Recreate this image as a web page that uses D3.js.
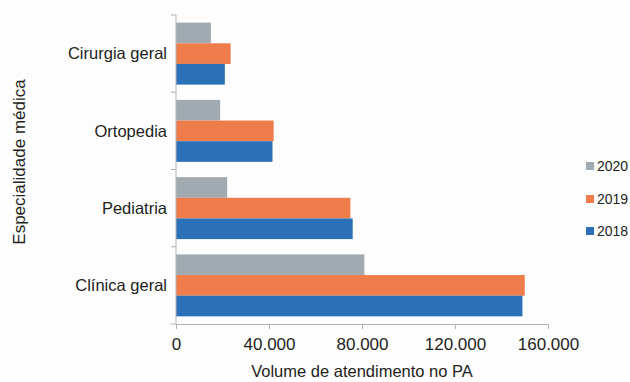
<!DOCTYPE html>
<html>
<head>
<meta charset="utf-8">
<script src="https://cdn.jsdelivr.net/npm/d3@7"></script>
<style>
  body { margin: 0; background: #fdfdfd; }
  text { font-family: "Liberation Sans", Arial, sans-serif; fill: #231f20; }
</style>
</head>
<body>
<div id="chart"></div>
<script>
// categories top to bottom, series top to bottom inside each group
var categories = ["Cirurgia geral", "Ortopedia", "Pediatria", "Clínica geral"];
var series = ["2020", "2019", "2018"];
var values2020 = [15000, 19000, 22000, 81000];
var values2019 = [23500, 42000, 75000, 150000];
var values2018 = [21000, 41500, 76000, 149000];
var xTicks = [0, 40000, 80000, 120000, 160000];
var colors = {"2020": "#a1aab1", "2019": "#ef7d4b", "2018": "#2a71b8"};

var data = categories.map(function(c, i) {
  return {cat: c, vals: {"2020": values2020[i], "2019": values2019[i], "2018": values2018[i]}};
});

var width = 630, height = 382;
var margin = {top: 15, right: 82, bottom: 58, left: 176};

var svg = d3.select("#chart").append("svg")
  .attr("width", width)
  .attr("height", height);

var x = d3.scaleLinear()
  .domain([0, 160000])
  .range([margin.left, width - margin.right - 0]);

var y0 = d3.scaleBand()
  .domain(categories)
  .range([margin.top, height - margin.bottom])
  .padding(0);

var y1 = d3.scaleBand()
  .domain(series)
  .range([0, y0.bandwidth()])
  .paddingInner(0)
  .paddingOuter(0.37);

var loc = d3.formatLocale({decimal: ",", thousands: ".", grouping: [3], currency: ["", ""]});
var fmt = loc.format(",");

// bars
var groups = svg.append("g").selectAll("g")
  .data(data)
  .enter().append("g")
  .attr("transform", function(d) { return "translate(0," + y0(d.cat) + ")"; });

groups.selectAll("rect")
  .data(function(d) { return series.map(function(s) { return {s: s, v: d.vals[s]}; }); })
  .enter().append("rect")
  .attr("x", x(0))
  .attr("y", function(d) { return y1(d.s); })
  .attr("width", function(d) { return x(d.v) - x(0); })
  .attr("height", y1.bandwidth())
  .style("fill", function(d) { return colors[d.s]; });

// left axis: line + ticks at group boundaries
var axisColor = "#b3b3b3";
var yBottom = height - margin.bottom;
var left = svg.append("g");
left.append("line")
  .attr("x1", x(0)).attr("x2", x(0))
  .attr("y1", margin.top).attr("y2", yBottom)
  .style("stroke", axisColor);
var bounds = categories.map(function(c) { return y0(c); }).concat([yBottom]);
left.selectAll("line.tick")
  .data(bounds)
  .enter().append("line")
  .attr("class", "tick")
  .attr("x1", x(0) - 5).attr("x2", x(0))
  .attr("y1", function(d) { return d; }).attr("y2", function(d) { return d; })
  .style("stroke", axisColor);
left.selectAll("text")
  .data(categories)
  .enter().append("text")
  .attr("x", x(0) - 9)
  .attr("y", function(d) { return y0(d) + y0.bandwidth() / 2; })
  .attr("dy", "0.35em")
  .attr("text-anchor", "end")
  .style("font-size", "16.5px")
  .text(function(d) { return d; });

// bottom axis
var xAxis = svg.append("g")
  .attr("transform", "translate(0," + yBottom + ")")
  .call(d3.axisBottom(x).tickValues(xTicks).tickSize(5).tickPadding(9).tickFormat(fmt));
xAxis.select(".domain").style("stroke", axisColor);
xAxis.selectAll(".tick line").style("stroke", axisColor);
xAxis.selectAll("text")
  .style("font-size", "17px")
  .style("font-family", "Liberation Sans, Arial, sans-serif")
  .attr("fill", "#231f20");

// axis titles
svg.append("text")
  .attr("x", (x(0) + x(160000)) / 2)
  .attr("y", 377)
  .attr("text-anchor", "middle")
  .style("font-size", "16.5px")
  .text("Volume de atendimento no PA");

svg.append("text")
  .attr("transform", "translate(25," + 162 + ") rotate(-90)")
  .attr("text-anchor", "middle")
  .style("font-size", "17px")
  .text("Especialidade médica");

// legend
var legendY = [166, 199, 231];
var legend = svg.append("g").selectAll("g")
  .data(series)
  .enter().append("g")
  .attr("transform", function(d, i) { return "translate(586," + legendY[i] + ")"; });
legend.append("rect")
  .attr("x", 0).attr("y", -4)
  .attr("width", 8).attr("height", 8)
  .style("fill", function(d) { return colors[d]; });
legend.append("text")
  .attr("x", 11)
  .attr("dy", "0.36em")
  .style("font-size", "14px")
  .text(function(d) { return d; });
</script>
</body>
</html>
